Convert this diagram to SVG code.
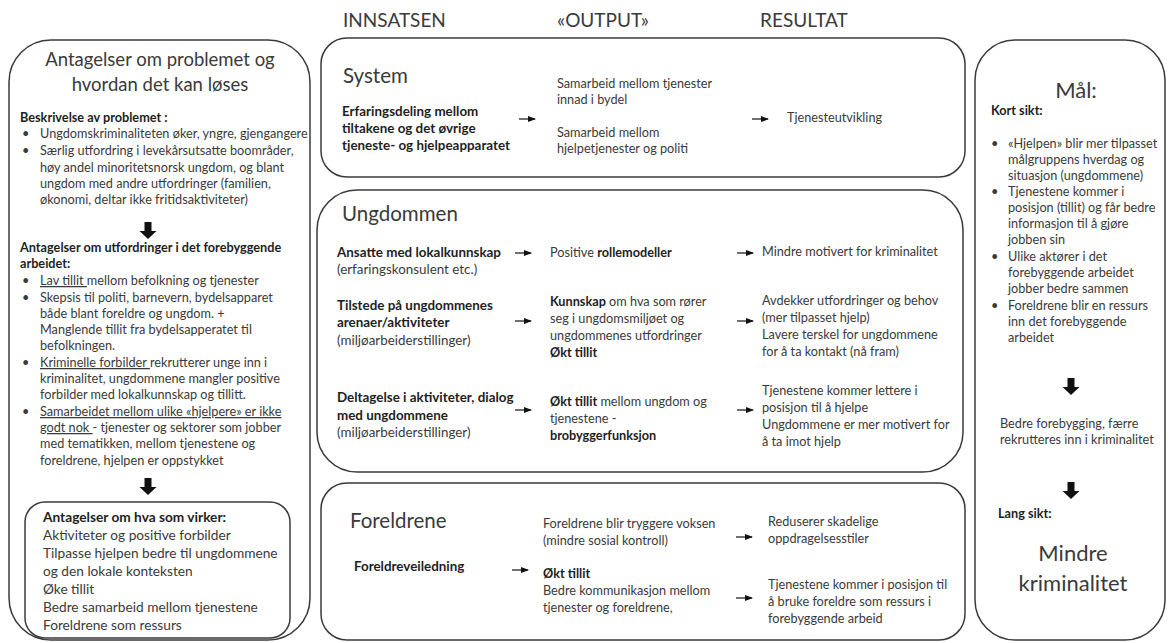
<svg xmlns="http://www.w3.org/2000/svg" width="1172" height="643" viewBox="0 0 1172 643">
<style>
text{font-family:Lato,"Liberation Sans",sans-serif;fill:#3a3a3a;font-size:12.7px}
.b{font-weight:bold;fill:#1e1e1e}
.h{font-size:20.5px}
.hd{font-size:19px}
.t{font-size:18.5px}
.m{font-size:13.4px}
.k{font-size:13.7px}
.big{font-size:22px}
.box{fill:#fff;stroke:#3a3a3a;stroke-width:1.5}
.con{stroke:#111;stroke-width:1.2;fill:none;marker-end:url(#ah)}
.down{fill:#111}
</style>
<defs>
<marker id="ah" markerWidth="8" markerHeight="6" refX="7" refY="3" orient="auto" markerUnits="userSpaceOnUse">
<path d="M0,0 L8,3 L0,6 z" fill="#111"/>
</marker>
<path id="dn" d="M-3.5,0 h7 v9 h5 l-8.5,8 l-8.5,-8 h5 z"/>
</defs>
<rect width="1172" height="643" fill="#fff"/>

<g id="headers">
<text class="hd" x="343" y="27">INNSATSEN</text>
<text class="hd" x="557" y="27">«OUTPUT»</text>
<text class="hd" x="760" y="27">RESULTAT</text>
</g>

<g id="left-panel">
<rect class="box" x="9" y="40" width="301" height="600" rx="42"/>
<text class="t" x="160" y="66" text-anchor="middle">Antagelser om problemet og</text>
<text class="t" x="160" y="91" text-anchor="middle">hvordan det kan løses</text>
<text class="b" x="20" y="122">Beskrivelse av problemet :</text>
<text x="22" y="138">•</text><text x="40" y="138">Ungdomskriminaliteten øker, yngre, gjengangere</text>
<text x="22" y="155">•</text><text x="40" y="155">Særlig utfordring i levekårsutsatte boområder,</text>
<text x="40" y="172">høy andel minoritetsnorsk ungdom, og blant</text>
<text x="40" y="188">ungdom med andre utfordringer (familien,</text>
<text x="40" y="204">økonomi, deltar ikke fritidsaktiviteter)</text>
<use href="#dn" class="down" x="148" y="222"/>
<text class="b" x="20" y="252">Antagelser om utfordringer i det forebyggende</text>
<text class="b" x="20" y="268">arbeidet:</text>
<text x="22" y="285">•</text><text x="40" y="285"><tspan text-decoration="underline">Lav tillit </tspan>mellom befolkning og tjenester</text>
<text x="22" y="302">•</text><text x="40" y="302">Skepsis til politi, barnevern, bydelsapparet</text>
<text x="40" y="318">både blant foreldre og ungdom. +</text>
<text x="40" y="334">Manglende tillit fra bydelsapperatet til</text>
<text x="40" y="350">befolkningen.</text>
<text x="22" y="367">•</text><text x="40" y="367"><tspan text-decoration="underline">Kriminelle forbilder </tspan>rekrutterer unge inn i</text>
<text x="40" y="383">kriminalitet, ungdommene mangler positive</text>
<text x="40" y="399">forbilder med lokalkunnskap og tillitt.</text>
<text x="22" y="416">•</text><text x="40" y="416" text-decoration="underline">Samarbeidet mellom ulike «hjelpere» er ikke</text>
<text x="40" y="432"><tspan text-decoration="underline">godt nok </tspan>- tjenester og sektorer som jobber</text>
<text x="40" y="448">med tematikken, mellom tjenestene og</text>
<text x="40" y="465">foreldrene, hjelpen er oppstykket</text>
<use href="#dn" class="down" x="148" y="478"/>
</g>

<g id="left-inner">
<rect class="box" x="25" y="502" width="265" height="136" rx="20"/>
<text class="k b" x="43" y="522">Antagelser om hva som virker:</text>
<text class="k" x="43" y="540">Aktiviteter og positive forbilder</text>
<text class="k" x="43" y="558">Tilpasse hjelpen bedre til ungdommene</text>
<text class="k" x="43" y="576">og den lokale konteksten</text>
<text class="k" x="43" y="594">Øke tillit</text>
<text class="k" x="43" y="612">Bedre samarbeid mellom tjenestene</text>
<text class="k" x="43" y="630">Foreldrene som ressurs</text>
</g>

<g id="system">
<rect class="box" x="321" y="38" width="644" height="139" rx="26"/>
<text class="h" x="343" y="83">System</text>
<text class="m b" x="342" y="116">Erfaringsdeling mellom</text>
<text class="m b" x="342" y="133">tiltakene og det øvrige</text>
<text class="m b" x="342" y="150">tjeneste- og hjelpeapparatet</text>
<text x="557" y="88">Samarbeid mellom tjenester</text>
<text x="557" y="104">innad i bydel</text>
<text x="557" y="137">Samarbeid mellom</text>
<text x="557" y="153">hjelpetjenester og politi</text>
<text x="787" y="122">Tjenesteutvikling</text>
</g>

<g id="ungdommen">
<rect class="box" x="317" y="190" width="646" height="282" rx="40"/>
<text class="h" x="342" y="221">Ungdommen</text>
<text class="m b" x="337" y="257">Ansatte med lokalkunnskap</text>
<text class="m" x="337" y="274">(erfaringskonsulent etc.)</text>
<text class="m b" x="337" y="310">Tilstede på ungdommenes</text>
<text class="m b" x="337" y="327">arenaer/aktiviteter</text>
<text class="m" x="337" y="345">(miljøarbeiderstillinger)</text>
<text class="m b" x="337" y="402">Deltagelse i aktiviteter, dialog</text>
<text class="m b" x="337" y="420">med ungdommene</text>
<text class="m" x="337" y="437">(miljøarbeiderstillinger)</text>
<text x="550" y="257">Positive <tspan class="b">rollemodeller</tspan></text>
<text x="550" y="306"><tspan class="b">Kunnskap</tspan> om  hva som rører</text>
<text x="550" y="323">seg i ungdomsmiljøet og</text>
<text x="550" y="340">ungdommenes utfordringer</text>
<text class="b" x="550" y="357">Økt tillit</text>
<text x="550" y="406"><tspan class="b">Økt tillit</tspan> mellom ungdom og</text>
<text x="550" y="423">tjenestene -</text>
<text class="b" x="550" y="440">brobyggerfunksjon</text>
<text x="762" y="256">Mindre motivert for kriminalitet</text>
<text x="762" y="305">Avdekker utfordringer og behov</text>
<text x="762" y="322">(mer tilpasset hjelp)</text>
<text x="762" y="339">Lavere terskel for ungdommene</text>
<text x="762" y="356">for å ta kontakt (nå fram)</text>
<text x="762" y="395">Tjenestene kommer lettere i</text>
<text x="762" y="412">posisjon til å hjelpe</text>
<text x="762" y="429">Ungdommene er mer motivert for</text>
<text x="762" y="446">å ta imot hjelp</text>
</g>

<g id="foreldrene">
<rect class="box" x="321" y="483" width="644" height="157" rx="26"/>
<text class="h" x="350" y="528">Foreldrene</text>
<text class="m b" x="354" y="571">Foreldreveiledning</text>
<text x="543" y="528">Foreldrene blir tryggere voksen</text>
<text x="543" y="545"> (mindre sosial kontroll)</text>
<text class="b" x="543" y="578">Økt tillit</text>
<text x="543" y="595">Bedre kommunikasjon mellom</text>
<text x="543" y="612">tjenester og foreldrene,</text>
<text x="768" y="526">Reduserer skadelige</text>
<text x="768" y="543">oppdragelsesstiler</text>
<text x="768" y="589">Tjenestene kommer i posisjon til</text>
<text x="768" y="606">å bruke foreldre som ressurs i</text>
<text x="768" y="623">forebyggende arbeid</text>
</g>

<g id="maal">
<rect class="box" x="975" y="40" width="190" height="600" rx="40"/>
<text class="big" x="1076" y="98" text-anchor="middle">Mål:</text>
<text class="b" x="991" y="115">Kort sikt:</text>
<text x="991" y="148">•</text><text x="1008" y="148">«Hjelpen» blir mer tilpasset</text>
<text x="1008" y="164">målgruppens hverdag og</text>
<text x="1008" y="180">situasjon (ungdommene)</text>
<text x="991" y="196">•</text><text x="1008" y="196">Tjenestene kommer i</text>
<text x="1008" y="212">posisjon (tillit) og får bedre</text>
<text x="1008" y="228">informasjon til å gjøre</text>
<text x="1008" y="244">jobben sin</text>
<text x="991" y="261">•</text><text x="1008" y="261">Ulike aktører i det</text>
<text x="1008" y="277">forebyggende arbeidet</text>
<text x="1008" y="293">jobber bedre sammen</text>
<text x="991" y="310">•</text><text x="1008" y="310">Foreldrene blir en ressurs</text>
<text x="1008" y="326">inn det forebyggende</text>
<text x="1008" y="342">arbeidet</text>
<use href="#dn" class="down" x="1071" y="378"/>
<text x="1000" y="428">Bedre forebygging, færre</text>
<text x="1000" y="444">rekrutteres inn i kriminalitet</text>
<use href="#dn" class="down" x="1071" y="482"/>
<text class="b" x="998" y="518">Lang sikt:</text>
<text class="big" x="1073" y="561" text-anchor="middle">Mindre</text>
<text class="big" x="1073" y="591" text-anchor="middle">kriminalitet</text>
</g>

<g id="connectors">
<line class="con" x1="519" y1="119" x2="535" y2="119"/>
<line class="con" x1="752" y1="119" x2="768" y2="119"/>
<line class="con" x1="515" y1="253" x2="531" y2="253"/>
<line class="con" x1="737" y1="253" x2="753" y2="253"/>
<line class="con" x1="515" y1="321" x2="531" y2="321"/>
<line class="con" x1="737" y1="321" x2="753" y2="321"/>
<line class="con" x1="515" y1="410" x2="531" y2="410"/>
<line class="con" x1="737" y1="410" x2="753" y2="410"/>
<line class="con" x1="512" y1="570" x2="528" y2="570"/>
<line class="con" x1="736" y1="537" x2="752" y2="537"/>
<line class="con" x1="736" y1="598" x2="752" y2="598"/>
</g>
</svg>
